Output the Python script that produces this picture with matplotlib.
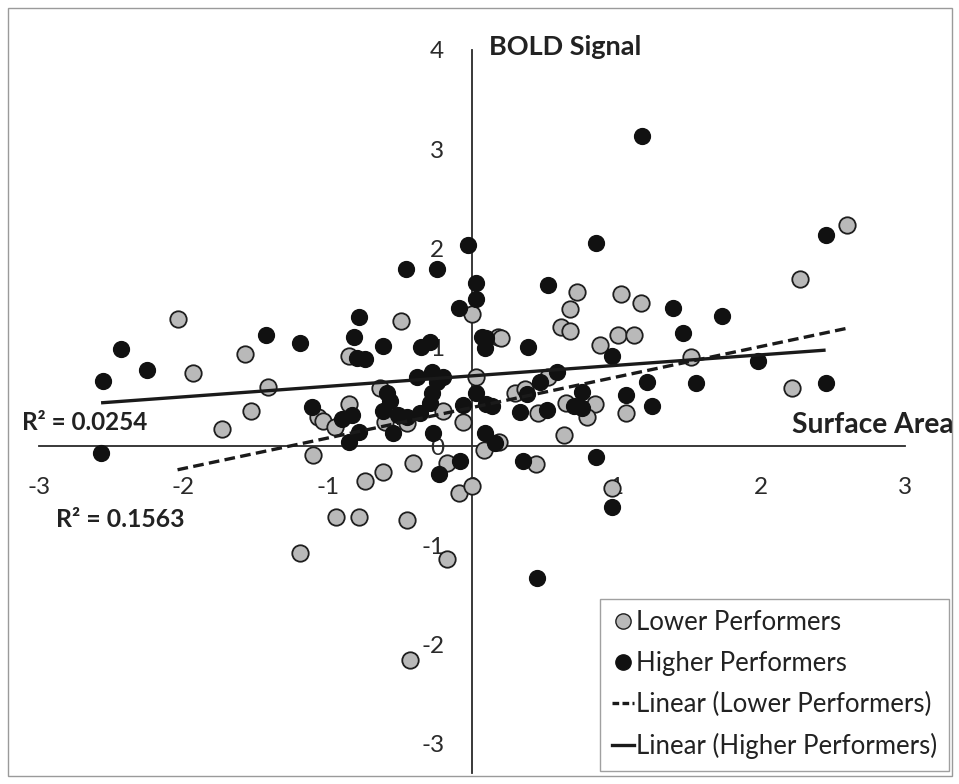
import matplotlib
matplotlib.use("Agg")
import matplotlib.pyplot as plt
from matplotlib.patches import Rectangle
from matplotlib.lines import Line2D
import numpy as np

plt.rcParams['font.family'] = ['Lato', 'DejaVu Sans']

# surface area (x) / BOLD signal (y)
lower_x = [-2.04, -1.93, -1.57, -1.41, -1.53, -1.73, -1.07, -1.03, -1.10, -1.19,
           0.00, -0.49, -0.85, 0.18, 0.03, -0.64, -0.85, -0.45, -0.60, -0.20,
           -0.06, -0.95, -0.62, -0.74, -0.41, -0.94, -0.78, -0.45, -0.17, -0.17,
           -0.09, 0.00, -0.43, 0.73, 1.03, 1.17, 0.68, 0.62, 0.68, 1.01,
           1.12, 0.89, 0.20, 0.53, 0.30, 0.37, 0.65, 0.85, 0.80, 0.46,
           1.07, 0.19, 0.08, 0.64, 0.44, 0.97, 2.60, 2.27, 1.52, 2.22]
lower_y = [1.28, 0.74, 0.93, 0.60, 0.36, 0.17, 0.29, 0.25, -0.09, -1.08,
           1.33, 1.26, 0.91, 1.10, 0.70, 0.59, 0.43, 0.23, 0.24, 0.36,
           0.24, 0.19, -0.26, -0.35, -0.17, -0.72, -0.72, -0.75, -1.14, -0.17,
           -0.47, -0.40, -2.16, 1.56, 1.54, 1.45, 1.38, 1.20, 1.16, 1.12,
           1.12, 1.02, 1.09, 0.70, 0.54, 0.58, 0.44, 0.43, 0.29, 0.33,
           0.33, 0.04, -0.04, 0.11, -0.18, -0.42, 2.23, 1.69, 0.90, 0.59]

higher_x = [-2.43, -2.56, -2.25, -1.43, -1.19, -2.57, -1.11, -0.03, -0.46, -0.24,
            0.03, 0.03, -0.09, -0.78, -0.82, -0.62, -0.80, -0.74, -0.29, -0.35,
            0.07, 0.10, 0.09, -0.38, -0.28, -0.20, -0.24, -0.59, -0.57, -0.28,
            -0.29, 0.03, -0.90, -0.83, -0.62, -0.51, -0.45, -0.36, -0.06, 0.10,
            0.14, -0.78, -0.85, -0.55, -0.27, -0.23, -0.08, 0.86, 0.53, 0.97,
            0.39, 0.59, 0.47, 0.38, 0.76, 0.71, 0.76, 0.52, 0.33, 1.07,
            1.21, 1.25, 0.09, 0.16, 0.86, 0.35, 0.97, 0.45, 1.18, 2.45,
            1.39, 1.73, 1.46, 1.98, 1.55, 2.45]
higher_y = [0.98, 0.66, 0.77, 1.12, 1.04, -0.07, 0.40, 2.03, 1.79, 1.79,
            1.65, 1.49, 1.40, 1.30, 1.10, 1.01, 0.89, 0.88, 1.05, 1.00,
            1.10, 1.09, 0.99, 0.70, 0.75, 0.70, 0.65, 0.54, 0.46, 0.54,
            0.44, 0.54, 0.27, 0.31, 0.36, 0.31, 0.29, 0.33, 0.42, 0.43,
            0.41, 0.14, 0.04, 0.13, 0.13, -0.28, -0.15, 2.05, 1.63, 0.91,
            1.00, 0.75, 0.65, 0.53, 0.55, 0.41, 0.39, 0.37, 0.34, 0.52,
            0.65, 0.41, 0.13, 0.03, -0.11, -0.15, -0.61, -1.33, 3.13, 2.13,
            1.39, 1.31, 1.14, 0.86, 0.64, 0.64]

# linear trendlines as printed (slope, intercept) and their R^2
lower_fit = (0.308, 0.39)
higher_fit = (0.106, 0.71)
lower_r2 = "R\u00b2 = 0.1563"
higher_r2 = "R\u00b2 = 0.0254"

xticks = [-3, -2, -1, 0, 1, 2, 3]
yticks = [-3, -2, -1, 0, 1, 2, 3, 4]

fig = plt.figure(figsize=(9.59, 7.84), dpi=100)
fig.patches.append(Rectangle((8 / 959, 1 - 776 / 784), 944 / 959, 768 / 784,
                             transform=fig.transFigure, fill=False,
                             edgecolor='#9a9a9a', linewidth=1.0))
ax = fig.add_axes([39 / 959, 1 - 773 / 784, 866 / 959, 723 / 784])
ax.set_xlim(-3, 3)
ax.set_ylim(-3.3, 4)

for side in ['top', 'right']:
    ax.spines[side].set_visible(False)
ax.spines['left'].set_position(('data', 0))
ax.spines['bottom'].set_position(('data', 0))
for side in ['left', 'bottom']:
    ax.spines[side].set_color('#2a2a2a')
    ax.spines[side].set_linewidth(1.3)

ax.set_xticks(xticks)
ax.set_yticks(yticks)
ax.set_xticklabels([str(t) for t in xticks])
ax.set_yticklabels([str(t) for t in yticks])
ax.tick_params(length=0, labelsize=17.5, colors='#2a2a2a')
ax.tick_params(axis='x', pad=22)
ax.tick_params(axis='y', pad=20)

ax.scatter(lower_x, lower_y, s=140, c='#b9b9b9', edgecolors='#1e1e1e',
           linewidths=1.3, zorder=3)
ax.scatter(higher_x, higher_y, s=130, c='#111111', edgecolors='#111111',
           linewidths=1.0, zorder=3)

lx = np.array([min(lower_x), max(lower_x)])
hx = np.array([min(higher_x), max(higher_x)])
ax.plot(lx, lower_fit[0] * lx + lower_fit[1], color='#1a1a1a', lw=2.4,
        linestyle=(0, (3.2, 1.6)), zorder=4)
ax.plot(hx, higher_fit[0] * hx + higher_fit[1], color='#1a1a1a', lw=2.4,
        solid_capstyle='butt', zorder=4)

ax.text(0.12, 3.95, "BOLD Signal", fontsize=19.5, fontweight='bold',
        color='#222222', ha='left', va='baseline')
ax.text(2.22, 0.13, "Surface Area", fontsize=20.3, fontweight='bold',
        color='#222222', ha='left', va='baseline')
ax.text(-3.12, 0.16, higher_r2, fontsize=17.5, fontweight='bold',
        color='#222222', ha='left', va='baseline')
ax.text(-2.88, -0.82, lower_r2, fontsize=17.8, fontweight='bold',
        color='#222222', ha='left', va='baseline')

handles = [
    Line2D([], [], linestyle='none', marker='o', markersize=11,
           markerfacecolor='#b9b9b9', markeredgecolor='#1e1e1e'),
    Line2D([], [], linestyle='none', marker='o', markersize=11,
           markerfacecolor='#111111', markeredgecolor='#111111'),
    Line2D([], [], color='#1a1a1a', lw=2.4, linestyle=(0, (2.0, 1.0))),
    Line2D([], [], color='#1a1a1a', lw=2.4),
]
labels = ["Lower Performers", "Higher Performers",
          "Linear (Lower Performers)", "Linear (Higher Performers)"]
leg = ax.legend(handles, labels, loc='lower right',
                bbox_to_anchor=(949 / 959, 1 - 771 / 784),
                bbox_transform=fig.transFigure, borderaxespad=0,
                fontsize=18.5, frameon=True, fancybox=False,
                handlelength=0.85, handletextpad=0.1, labelspacing=0.62,
                borderpad=0.45)
leg.get_frame().set_edgecolor('#888888')
leg.get_frame().set_linewidth(1.0)
for t in leg.get_texts():
    t.set_color('#222222')

fig.savefig("out.png", dpi=100)
